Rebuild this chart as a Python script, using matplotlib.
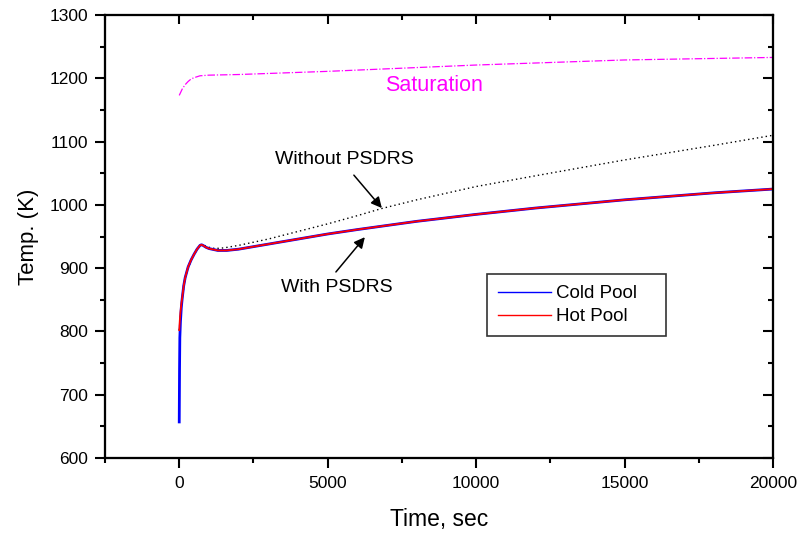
import numpy as np
import matplotlib
matplotlib.use("Agg")
import matplotlib.pyplot as plt
from matplotlib.ticker import MultipleLocator

plt.rcParams['font.family'] = ['Liberation Sans', 'DejaVu Sans']

# pool temperatures (with PSDRS)
t_pool = [0, 10, 20, 40, 70, 100, 150, 200, 300, 400, 500, 600, 700, 750, 800, 900,
          1000, 1300, 1600, 2000, 3000, 4000, 5000, 6000, 8000, 10000, 12000, 15000,
          18000, 20000]
cold_pool = [657, 740, 790, 815, 838, 852, 872, 885, 902, 913, 922, 930, 936, 937, 936, 933,
             931, 928, 928, 930, 938, 946, 954, 961, 974, 985, 995, 1008, 1019, 1025]
hot_pool = [802, 810, 818, 830, 843, 853, 872, 885, 902, 913, 922, 930, 936, 937, 936, 933,
            931, 928, 928, 930, 938, 946, 954, 961, 974, 985, 995, 1008, 1019, 1025]

# without PSDRS
t_nops = [0, 100, 200, 400, 600, 750, 800, 1000, 1200, 1500, 2000, 3000, 4000, 5000,
          6000, 6800, 8000, 10000, 12000, 15000, 18000, 20000]
no_psdrs = [802, 853, 885, 913, 930, 937, 937, 933, 931, 932, 936, 946, 958, 970,
            983, 994, 1008, 1029, 1046, 1071, 1094, 1110]

# saturation temperature
t_sat = [0, 100, 200, 300, 400, 500, 700, 1000, 2000, 5000, 10000, 15000, 20000]
sat = [1173, 1183, 1190, 1195, 1199, 1201, 1204, 1205, 1206, 1211, 1221, 1229, 1233]

fig = plt.figure(figsize=(8.01, 5.37), dpi=100)
ax = fig.add_axes([0.1311, 0.1471, 0.8340, 0.8249])

ax.plot(t_sat, sat, color='#ff00ff', lw=0.9, ls=(0, (6, 1.5, 1, 1.5)))
ax.plot(t_nops, no_psdrs, color='black', lw=1.0, ls=(0, (1, 2.2)))
ax.plot(t_pool, cold_pool, color='blue', lw=2.0, label='Cold Pool')
ax.plot(t_pool, hot_pool, color='red', lw=1.3, label='Hot Pool')

ax.text(8570, 1189, 'Saturation', color='#ff00ff', fontsize=15.5, ha='center', va='center')
ax.text(5546, 1071, 'Without PSDRS', fontsize=14, ha='center', va='center')
ax.text(5311, 869, 'With PSDRS', fontsize=14, ha='center', va='center')

arrow = dict(arrowstyle='-|>', color='black', lw=1.1, shrinkA=0, shrinkB=0,
             mutation_scale=16)
ax.annotate('', xy=(6824, 995), xytext=(5882, 1047), arrowprops=arrow)
ax.annotate('', xy=(6252, 949), xytext=(5277, 894), arrowprops=arrow)

# legend box spans x 487-666 px
bx0 = (487 - 105) / 668
bw = (666 - 487) / 668
by = (458 - 274) / 443
leg = ax.legend(loc='upper left', bbox_to_anchor=(bx0, by - 0.2, bw, 0.2), mode='expand',
                borderaxespad=0, fontsize=13.5, fancybox=False, edgecolor='black',
                handlelength=2.8, handletextpad=0.3, borderpad=0.6, labelspacing=0.3)
leg.get_frame().set_linewidth(1.2)
for l in leg.get_lines():
    l.set_linewidth(1.0)

xlim = (-2500, 20000)
ylim = (600, 1300)
ax.set_xlim(xlim)
ax.set_ylim(ylim)
ax.xaxis.set_major_locator(MultipleLocator(5000))
ax.xaxis.set_minor_locator(MultipleLocator(2500))
ax.yaxis.set_major_locator(MultipleLocator(100))
ax.yaxis.set_minor_locator(MultipleLocator(50))

for s in ax.spines.values():
    s.set_linewidth(1.5)

ax.tick_params(which='both', direction='out', top=False, right=False, width=1.5,
               labelsize=12.5)
ax.tick_params(which='major', length=7)
ax.tick_params(which='minor', length=3.5)
ax.tick_params(axis='x', which='major', pad=6)
ax.tick_params(axis='y', which='major', pad=5)

# inward ticks on top and right via twin axes
axt = ax.twiny()
axt.set_xlim(xlim)
axt.xaxis.set_major_locator(MultipleLocator(5000))
axt.xaxis.set_minor_locator(MultipleLocator(2500))
axt.tick_params(axis='x', which='both', direction='in', width=1.5, labeltop=False,
                top=True, bottom=False)
axt.tick_params(axis='x', which='major', length=6.5)
axt.tick_params(axis='x', which='minor', length=3.5)

axr = ax.twinx()
axr.set_ylim(ylim)
axr.yaxis.set_major_locator(MultipleLocator(100))
axr.yaxis.set_minor_locator(MultipleLocator(50))
axr.tick_params(axis='y', which='both', direction='in', width=1.5, labelright=False,
                right=True, left=False)
axr.tick_params(axis='y', which='major', length=7)
axr.tick_params(axis='y', which='minor', length=3.5)
for a in (axt, axr):
    for s in a.spines.values():
        s.set_linewidth(1.5)

ax.set_xlabel('Time, sec', fontsize=16.5, labelpad=12)
ax.set_ylabel('Temp. (K)', fontsize=16, labelpad=8)

fig.savefig('out.png', dpi=100)
